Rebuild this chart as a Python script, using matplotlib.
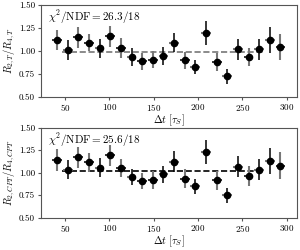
import numpy as np
import matplotlib
matplotlib.use('Agg')
import matplotlib.pyplot as plt

plt.rcParams['font.family'] = 'serif'
plt.rcParams['font.serif'] = ['cmr10']
plt.rcParams['mathtext.fontset'] = 'cm'
plt.rcParams['axes.formatter.use_mathtext'] = True

# bin centres in units of tau_S
dt = np.arange(41, 294, 12)
dt_half = 5.5

# top panel: R_{2,T}/R_{4,T}
r_t = [1.12, 1.007, 1.145, 1.09, 1.025, 1.156, 1.029, 0.931, 0.884, 0.902, 0.946,
       1.09, 0.895, 0.822, 1.192, 0.877, 0.721, 1.018, 0.928, 1.018, 1.116, 1.043]
r_t_err = [0.11, 0.11, 0.11, 0.095, 0.105, 0.11, 0.105, 0.095, 0.09, 0.09, 0.10,
           0.10, 0.09, 0.08, 0.13, 0.10, 0.085, 0.115, 0.10, 0.115, 0.14, 0.145]
fit_t = 0.986

# bottom panel: R_{2,CPT}/R_{4,CPT}
r_cpt = [1.14, 1.032, 1.169, 1.112, 1.054, 1.19, 1.05, 0.95, 0.906, 0.914, 0.978,
         1.119, 0.932, 0.845, 1.23, 0.914, 0.745, 1.065, 0.96, 1.032, 1.13, 1.076]
r_cpt_err = [0.12, 0.108, 0.117, 0.104, 0.104, 0.117, 0.10, 0.093, 0.093, 0.10, 0.097,
             0.117, 0.104, 0.085, 0.133, 0.106, 0.081, 0.12, 0.11, 0.12, 0.147, 0.153]
fit_cpt = 1.018

# which points have a grey vertical bar (the others have a grey horizontal bar)
grey_vert = [1, 0, 1, 1, 0, 1, 1, 0, 1, 1, 0, 0, 1, 0, 0, 1, 0, 0, 1, 0, 0, 1]
fit_range = (47, 275)

chi2_t = r'$\chi^2/\mathrm{NDF} = 26.3/18$'
chi2_cpt = r'$\chi^2/\mathrm{NDF} = 25.6/18$'

grey = '#777777'

fig = plt.figure(figsize=(3.0, 2.5), dpi=100)
ax1 = fig.add_axes([0.135, 0.614, 0.855, 0.366])
ax2 = fig.add_axes([0.135, 0.13, 0.855, 0.36])


def panel(ax, y, yerr, fit, fitcol, txt, ylab):
    y = np.array(y)
    yerr = np.array(yerr)
    g = np.array(grey_vert) == 1
    b = ~g
    ax.plot(fit_range, [fit, fit], ls='--', color=fitcol, lw=1.2, zorder=1)
    # vertical bars
    ax.errorbar(dt[g], y[g], yerr=yerr[g], fmt='none', ecolor=grey, elinewidth=1.5, zorder=2)
    ax.errorbar(dt[b], y[b], yerr=yerr[b], fmt='none', ecolor='black', elinewidth=1.1, zorder=3)
    # horizontal bars
    ax.errorbar(dt[b], y[b], xerr=dt_half, fmt='none', ecolor=grey, elinewidth=1.5, zorder=2)
    ax.errorbar(dt[g], y[g], xerr=dt_half, fmt='none', ecolor='black', elinewidth=1.1, zorder=3)
    ax.plot(dt, y, 'o', color='black', ms=4.5, zorder=4)
    ax.set_ylim(0.5, 1.5)
    ax.set_yticks([0.5, 0.75, 1.0, 1.25, 1.5])
    ax.set_yticklabels(['0.50', '0.75', '1.00', '1.25', '1.50'])
    ax.set_xticks([50, 100, 150, 200, 250, 300])
    ax.tick_params(labelsize=6.5, length=2.5, width=0.8, color='#555555', pad=1.5)
    for s in ax.spines.values():
        s.set_color('#555555')
        s.set_linewidth(0.8)
    ax.text(0.03, 0.96, txt, transform=ax.transAxes, ha='left', va='top', fontsize=8)
    ax.set_ylabel(ylab, fontsize=7.5, labelpad=1)
    ax.set_xlabel(r'$\Delta t\ [\tau_S]$', fontsize=7.5, labelpad=0)


panel(ax1, r_t, r_t_err, fit_t, grey, chi2_t, r'$R_{2,T}/R_{4,T}$')
panel(ax2, r_cpt, r_cpt_err, fit_cpt, 'black', chi2_cpt, r'$R_{2,CPT}/R_{4,CPT}$')

fig.savefig('out.png', dpi=100)
